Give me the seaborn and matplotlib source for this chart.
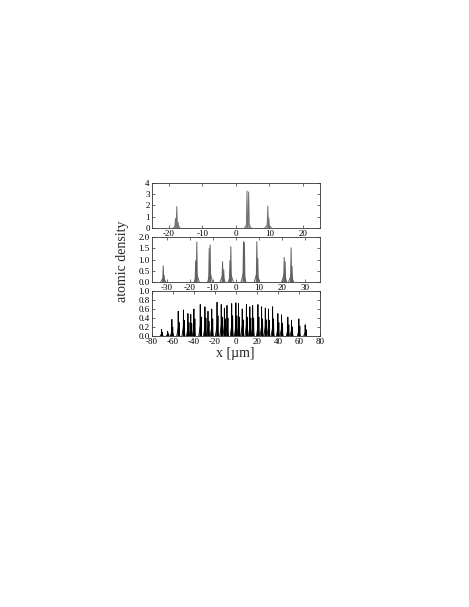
import numpy as np
import pandas as pd
import matplotlib
matplotlib.use("Agg")
import matplotlib.pyplot as plt
import seaborn as sns

# ==============================
# Data (peak positions / heights)
# ==============================

# top panel
top_x = [-18.0, -17.6, -17.2, 3.3, 3.8, 9.5, 9.8]
top_y = [0.85, 1.9, 0.5, 3.3, 3.2, 1.95, 0.9]
top_base_x = [-17.6, 3.55, 9.6]
top_base_y = [0.3, 0.45, 0.35]

# middle panel
mid_x = [-31.6, -17.0, -11.2, -5.8, -2.2, 3.3, 9.1, 21.0, 24.0]
mid_y = [0.72, 1.78, 1.65, 0.9, 1.57, 1.8, 1.8, 1.1, 1.52]
mid_x2 = [-31.2, -17.5, -11.6, -5.3, -2.6, 3.7, 9.5, 21.4, 24.4]
mid_y2 = [0.3, 0.95, 1.5, 0.55, 0.95, 1.75, 1.05, 0.9, 0.7]
mid_base_y = [0.2, 0.35, 0.4, 0.3, 0.35, 0.4, 0.4, 0.35, 0.3]

# bottom panel
bot_x = [-70.8, -65.0, -61.0, -55.0, -50.0, -45.7, -43.0, -40.0, -34.0, -29.5,
         -26.6, -23.0, -18.0, -14.0, -11.0, -8.5, -4.0, 0.0, 2.5, 6.0,
         10.0, 13.3, 16.0, 21.0, 24.5, 28.0, 31.0, 35.0, 40.0, 43.5,
         49.5, 53.0, 60.0, 66.0]
bot_y = [0.15, 0.1, 0.37, 0.55, 0.58, 0.5, 0.48, 0.6, 0.7, 0.65,
         0.55, 0.6, 0.75, 0.7, 0.62, 0.68, 0.72, 0.74, 0.72, 0.6,
         0.7, 0.65, 0.68, 0.7, 0.65, 0.62, 0.6, 0.65, 0.5, 0.47,
         0.42, 0.35, 0.38, 0.25]
bot_x2 = [-70.0, -64.2, -60.2, -54.1, -49.1, -44.8, -42.1, -39.1, -33.1, -28.6,
          -25.7, -22.1, -17.1, -13.1, -10.1, -7.6, -3.1, 0.9, 3.4, 6.9,
          10.9, 14.2, 16.9, 21.9, 25.4, 28.9, 31.9, 35.9, 40.9, 44.4,
          50.4, 53.9, 60.9, 66.9]
bot_y2 = [0.08, 0.05, 0.2, 0.3, 0.35, 0.3, 0.28, 0.38, 0.42, 0.4,
          0.33, 0.38, 0.45, 0.42, 0.38, 0.4, 0.45, 0.45, 0.42, 0.36,
          0.42, 0.4, 0.4, 0.42, 0.38, 0.36, 0.35, 0.38, 0.3, 0.28,
          0.25, 0.2, 0.22, 0.14]
bot_base_y = [0.05, 0.04, 0.12, 0.18, 0.2, 0.18, 0.17, 0.2, 0.22, 0.22,
              0.2, 0.22, 0.24, 0.22, 0.22, 0.22, 0.24, 0.24, 0.24, 0.22,
              0.22, 0.22, 0.22, 0.22, 0.22, 0.2, 0.2, 0.2, 0.18, 0.17,
              0.15, 0.13, 0.13, 0.08]


def spikes(xs, ys, hw, start=0):
    rows = []
    for i, (c, h) in enumerate(zip(xs, ys)):
        rows += [(start + i, c - hw, 0.0), (start + i, c, h), (start + i, c + hw, 0.0)]
    return pd.DataFrame(rows, columns=["id", "x", "y"])


def build(groups):
    frames = []
    n = 0
    for xs, ys, hw in groups:
        d = spikes(xs, ys, hw, n)
        n += len(xs)
        frames.append(d)
    return pd.concat(frames, ignore_index=True)


df_top = build([(top_x, top_y, 0.2), (top_base_x, top_base_y, 1.0)])
df_mid = build([(mid_x, mid_y, 0.25), (mid_x2, mid_y2, 0.25), (mid_x, mid_base_y, 1.1)])
df_bot = build([(bot_x, bot_y, 0.3), (bot_x2, bot_y2, 0.3), (bot_x, bot_base_y, 1.4)])

# ==============================
# Figure
# ==============================

sns.set_style("ticks")
plt.rcParams["font.family"] = ["Liberation Serif", "DejaVu Serif"]
plt.rcParams["axes.unicode_minus"] = False
plt.rcParams["axes.linewidth"] = 0.6
plt.rcParams["axes.edgecolor"] = "#333333"

fig = plt.figure(figsize=(4.69, 6.07), dpi=100)

L, W, H = 0.324, 0.358, 0.0741
ax1 = fig.add_axes([L, 0.6244, W, H])
ax2 = fig.add_axes([L, 0.5354, W, H])
ax3 = fig.add_axes([L, 0.4465, W, H])

panels = [
    (ax1, df_top, "#707070", 0.7, (-25, 25), (0, 4), np.arange(-20, 21, 10), np.arange(0, 5, 1), "%d"),
    (ax2, df_mid, "#606060", 0.7, (-36.5, 36.5), (0, 2), np.arange(-30, 31, 10), np.arange(0, 2.01, 0.5), "%.1f"),
    (ax3, df_bot, "black", 0.6, (-80, 80), (0, 1), np.arange(-80, 81, 20), np.arange(0, 1.01, 0.2), "%.1f"),
]

for ax, d, col, lw, xl, yl, xt, yt, fmt in panels:
    sns.lineplot(data=d, x="x", y="y", units="id", estimator=None, sort=False,
                 color=col, lw=lw, ax=ax, legend=False)
    ax.set_xlim(*xl)
    ax.set_ylim(*yl)
    ax.set_xticks(xt)
    ax.set_yticks(yt)
    ax.yaxis.set_major_formatter(matplotlib.ticker.FormatStrFormatter(fmt))
    ax.set_xlabel("")
    ax.set_ylabel("")
    ax.tick_params(which="both", direction="in", top=True, right=True,
                   length=2, width=0.5, labelsize=6.5, pad=1.5, colors="#333333")
    ax.tick_params(labelcolor="black")
    for s in ax.spines.values():
        s.set_visible(True)

fig.text(0.262, 0.57, "atomic density", rotation=90, ha="center", va="center", fontsize=10)
fig.text(0.502, 0.418, "x [µm]", ha="center", va="center", fontsize=10)

fig.savefig("out.png", dpi=100)
